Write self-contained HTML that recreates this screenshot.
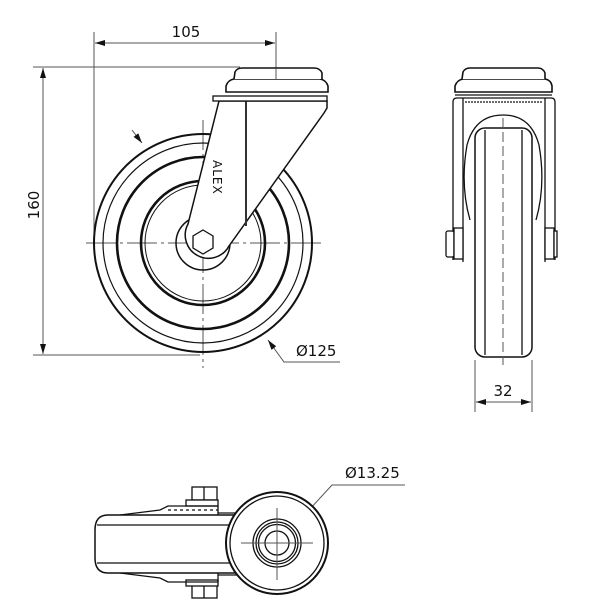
<!DOCTYPE html>
<html><head><style>
html,body{margin:0;padding:0;background:#fff;}
svg{display:block;}
text{font-family:"DejaVu Sans","Liberation Sans",sans-serif;fill:#111;}
</style></head><body>
<svg width="600" height="610" viewBox="0 0 600 610" xmlns="http://www.w3.org/2000/svg">
<defs>
<marker id="ar" viewBox="0 0 10 6" refX="10" refY="3" markerWidth="10" markerHeight="6" orient="auto-start-reverse" markerUnits="userSpaceOnUse"><path d="M0,0 L10,3 L0,6 z" fill="#111"/></marker>
</defs>
<g fill="none" stroke="#555" stroke-width="1">
<line x1="94" y1="32" x2="94" y2="235"/>
<line x1="276" y1="32" x2="276" y2="72"/>
<line x1="95" y1="43" x2="275" y2="43" marker-start="url(#ar)" marker-end="url(#ar)"/>
<line x1="33" y1="67" x2="240" y2="67"/>
<line x1="33" y1="355" x2="200" y2="355"/>
<line x1="43" y1="68" x2="43" y2="354" marker-start="url(#ar)" marker-end="url(#ar)"/>
<line x1="86" y1="243" x2="322" y2="243" stroke-dasharray="30,4,3,4"/>
<line x1="203" y1="120" x2="203" y2="368" stroke-dasharray="30,4,3,4"/>
<polyline points="268,340 284,362 340,362" marker-start="url(#ar)"/>
<line x1="132" y1="130" x2="142" y2="143" marker-end="url(#ar)"/>
<line x1="475" y1="360" x2="475" y2="412"/>
<line x1="532" y1="360" x2="532" y2="412"/>
<line x1="476" y1="402" x2="531" y2="402" marker-start="url(#ar)" marker-end="url(#ar)"/>
<polyline points="263,560 332,485 405,485" marker-start="url(#ar)"/>
</g>

<g fill="none" stroke="#111">
<circle cx="203" cy="243" r="109" stroke-width="2"/>
<circle cx="203" cy="243" r="100" stroke-width="1.2"/>
<circle cx="203" cy="243" r="86" stroke-width="2.6"/>
<circle cx="203" cy="243" r="62" stroke-width="2.6"/>
<circle cx="203" cy="243" r="58" stroke-width="1"/>
<circle cx="203" cy="243" r="27" stroke-width="1.5"/>
</g>
<path d="M219,101 L327,101 L327,108 L324,113 L229,246 A22,22 0 1 1 188,224 Z" fill="#fff" stroke="#111" stroke-width="1.5"/>
<line x1="246" y1="101" x2="246" y2="226" stroke="#333" stroke-width="2"/>
<polygon points="203,230 213,236 213,248 203,254 193,248 193,236" fill="#fff" stroke="#111" stroke-width="1.3"/>
<rect x="213" y="96" width="114" height="5" fill="#fff" stroke="#111" stroke-width="1.3"/>
<path d="M226,92 L226,86 Q228,80 234,79 L320,79 Q326,80 328,86 L328,92 Z" fill="#fff" stroke="#111" stroke-width="1.6"/>
<path d="M234,79 L235,72 Q237,68 242,68 L314,68 Q320,68 322,73 L322,79" fill="#fff" stroke="#111" stroke-width="1.6"/>
<line x1="276" y1="68" x2="276" y2="79" stroke="#555"/>
<text x="0" y="0" font-size="12" transform="translate(213,160) rotate(90)" letter-spacing="1">ALEX</text>

<g fill="none" stroke="#111" stroke-width="1.3">
<path d="M453,260 L453,102 Q453,98 457,98 L551,98 Q555,98 555,102 L555,260" fill="#fff"/>
<line x1="463" y1="98" x2="463" y2="262"/>
<line x1="545" y1="98" x2="545" y2="262"/>
<line x1="465" y1="102" x2="543" y2="102" stroke-dasharray="2,1"/>
<path d="M467,145 Q475,115 503,115 Q531,115 539,145"/>
<path d="M467,145 Q460,185 470,220 M539,145 Q546,185 536,220"/>
<rect x="475" y="128" width="57" height="229" rx="10" fill="#fff" stroke-width="1.5"/>
<line x1="485" y1="130" x2="485" y2="355"/>
<line x1="522" y1="130" x2="522" y2="355"/>
<rect x="446" y="231" width="8" height="26" rx="2" fill="#fff"/>
<rect x="454" y="228" width="9" height="31" fill="#fff"/>
<rect x="545" y="228" width="9" height="31" fill="#fff"/>
<rect x="554" y="231" width="3" height="26" fill="#fff"/>
<path d="M455,92 L455,86 Q457,80 463,79 L545,79 Q551,80 552,86 L552,92 Z" fill="#fff" stroke-width="1.6"/>
<path d="M462,79 L463,72 Q465,68 470,68 L538,68 Q543,68 545,73 L545,79" fill="#fff" stroke-width="1.6"/>
<line x1="455" y1="95" x2="552" y2="95"/>
</g>
<line x1="503" y1="118" x2="503" y2="365" stroke="#555" stroke-dasharray="10,4"/>

<g fill="none" stroke="#111" stroke-width="1.3">
<rect x="192" y="487" width="25" height="13" fill="#fff"/>
<line x1="204" y1="487" x2="204" y2="500"/>
<rect x="192" y="585" width="25" height="13" fill="#fff"/>
<line x1="204" y1="585" x2="204" y2="598"/>
<rect x="186" y="500" width="32" height="6" fill="#fff"/>
<rect x="186" y="580" width="32" height="6" fill="#fff"/>
<path d="M120,515 L160,510 L168,506 L218,506 M120,573 L160,578 L168,582 L218,582"/>
<line x1="168" y1="510" x2="218" y2="510" stroke-dasharray="3,3"/>
<path d="M218,506 L218,582 M218,513 L240,513 M218,575 L240,575"/>
<path d="M240,515 L108,515 Q95,515 95,530 L95,558 Q95,573 108,573 L240,573" fill="#fff" stroke-width="1.5"/>
<line x1="97" y1="525" x2="240" y2="525"/>
<line x1="97" y1="563" x2="240" y2="563"/>
<circle cx="277" cy="543" r="51" fill="#fff" stroke-width="2"/>
<circle cx="277" cy="543" r="47"/>
<circle cx="277" cy="543" r="24"/>
<circle cx="277" cy="543" r="21"/>
<circle cx="277" cy="543" r="18.5"/>
<circle cx="277" cy="543" r="12"/>
</g>
<g stroke="#555" stroke-width="1">
<line x1="241" y1="543" x2="313" y2="543"/>
<line x1="277" y1="508" x2="277" y2="580"/>
</g>

<text x="186" y="37" font-size="15" text-anchor="middle">105</text>
<text x="0" y="0" font-size="15" text-anchor="middle" transform="translate(39,205) rotate(-90)">160</text>
<text x="296" y="356" font-size="15">Ø125</text>
<text x="503" y="396" font-size="15" text-anchor="middle">32</text>
<text x="345" y="478" font-size="15">Ø13.25</text>
</svg>
</body></html>
